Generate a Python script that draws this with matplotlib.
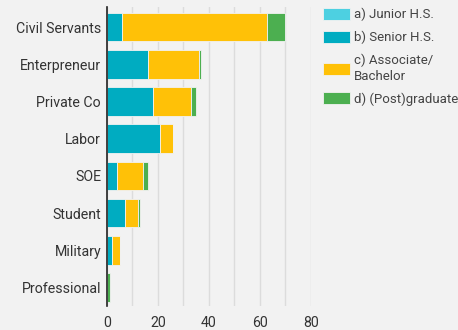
import numpy as np
import matplotlib.pyplot as plt

categories = ["Civil Servants", "Enterpreneur", "Private Co", "Labor",
              "SOE", "Student", "Military", "Professional"]
junior = [0, 0, 0, 0, 0, 0, 0, 0]
senior = [6, 16, 18, 21, 4, 7, 2, 0]
associate = [57, 20, 15, 5, 10, 5, 3, 0]
graduate = [7, 1, 2, 0, 2, 1, 0, 1]

series = [
    ("a) Junior H.S.", junior, "#4dd0e1"),
    ("b) Senior H.S.", senior, "#00acc1"),
    ("c) Associate/\nBachelor", associate, "#ffc107"),
    ("d) (Post)graduate", graduate, "#4caf50"),
]

plt.rcParams['font.family'] = ['Roboto', 'DejaVu Sans']
bg = "#f2f2f2"
fig = plt.figure(figsize=(4.58, 3.30), dpi=100, facecolor=bg)
ax = fig.add_axes([0.2336, 0.0727, 0.445, 0.906], facecolor=bg)

y = np.arange(len(categories))
left = np.zeros(len(categories))
handles = []
for label, vals, color in series:
    vals = np.array(vals, dtype=float)
    h = ax.barh(y, vals, left=left, height=0.77, color=color,
                edgecolor=bg, linewidth=0.6, label=label, zorder=3)
    handles.append(h)
    left += vals

ax.set_xlim(0, 80)
ax.set_ylim(7.5, -0.54)
ax.set_xticks(np.arange(0, 81, 20))
ax.set_xticks(np.arange(0, 81, 10), minor=True)
ax.set_yticks(y)
ax.set_yticklabels(categories)
ax.grid(axis='x', which='both', color='#dcdcdc', linewidth=1, zorder=0)
ax.tick_params(length=0, which='both', labelsize=10.2, colors='#333333')
ax.tick_params(axis='y', pad=4.3)
ax.tick_params(axis='x', pad=7)
for s in ['top', 'right', 'bottom']:
    ax.spines[s].set_visible(False)
ax.spines['left'].set_color('#222222')
ax.spines['left'].set_linewidth(1.2)
ax.spines['left'].set_zorder(4)

leg = fig.legend(handles=handles, loc='upper left',
                 bbox_to_anchor=(323 / 458, 1 - 8 / 330),
                 frameon=False, fontsize=9.5, borderpad=0, borderaxespad=0,
                 handlelength=2.05, handleheight=1.0,
                 handletextpad=0.3, labelspacing=0.72, labelcolor='#444444')
for t in leg.get_texts():
    t.set_linespacing(1.25)

fig.savefig("out.png", dpi=100, facecolor=bg)
